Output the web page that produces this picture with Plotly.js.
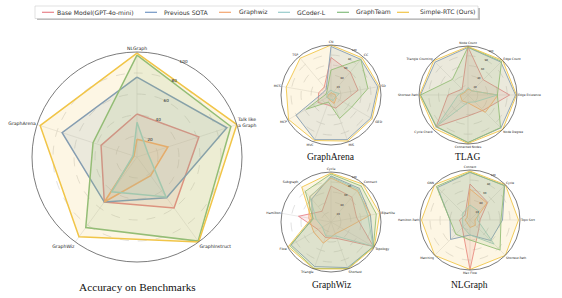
<!DOCTYPE html>
<html>
<head>
<meta charset="utf-8">
<script src="https://cdn.plot.ly/plotly-3.0.1.min.js"></script>
<style>html,body{margin:0;padding:0;background:#fff;}#chart{width:562px;height:298px;}</style>
</head>
<body>
<div id="chart"></div>
<script>
// ---------- data ----------
const seriesNames = ['Base Model(GPT-4o-mini)', 'Previous SOTA', 'Graphwiz', 'GCoder-L', 'GraphTeam', 'Simple-RTC (Ours)'];

// Main chart: accuracy on benchmarks
const mainCats = ['NLGraph', 'Talk like<br>a Graph', 'GraphInstruct', 'GraphWiz', 'GraphArena'];
const mainBase     = [41, 62, 60, 53, 36];
const mainSota     = [76, 90, 48, 53, 75];
const mainGraphwiz = [17, 31, 22, 53, 3];
const mainGcoder   = [33, 11, 47, 41, 4];
const mainTeam     = [97, 94, 99, 83, 44];
const mainOurs     = [99, 100, 100, 94, 97];

// GraphArena tasks
const arenaCats = ['CN', 'CC', 'SD', 'GED', 'MIS', 'MVC', 'MCP', 'MCS', 'TSP'];
const arenaBase     = [75, 60, 55, 28, 28, 21, 30, 25, 21];
const arenaSota     = [97, 93, 95, 92, 95, 95, 81, 18, 15];
const arenaGraphwiz = [5, 4, 8, 12, 18, 10, 8, 5, 3];
const arenaGcoder   = [10, 8, 17, 10, 12, 8, 10, 8, 8];
const arenaTeam     = [50, 93, 75, 48, 50, 15, 57, 10, 12];
const arenaOurs     = [100, 97, 98, 95, 98, 97, 98, 91, 96];

// TLAG tasks
const tlagCats = ['Node Count', 'Edge Count', 'Edge Existence', 'Node Degree', 'Connected Nodes', 'Cycle Check', 'Shortest Path', 'Triangle Counting'];
const tlagBase     = [98, 44, 85, 44, 43, 92, 41, 17];
const tlagSota     = [97, 95, 97, 95, 97, 92, 97, 95];
const tlagGraphwiz = [12, 12, 61, 50, 16, 17, 16, 8];
const tlagGcoder   = [15, 12, 60, 20, 15, 88, 20, 10];
const tlagTeam     = [98, 97, 60, 94, 97, 91, 97, 45];
const tlagOurs     = [99, 100, 99, 100, 99, 97, 99, 99];

// GraphWiz tasks
const wizCats = ['Cycle', 'Connect', 'Bipartite', 'Topology', 'Shortest', 'Triangle', 'Flow', 'Hamilton', 'Subgraph'];
const wizBase     = [72, 65, 52, 98, 35, 33, 30, 66, 28];
const wizSota     = [92, 88, 80, 98, 97, 95, 92, 38, 60];
const wizGraphwiz = [88, 82, 80, 30, 25, 45, 40, 45, 66];
const wizGcoder   = [90, 85, 75, 97, 30, 30, 20, 30, 66];
const wizTeam     = [96, 94, 92, 98, 99, 99, 95, 36, 80];
const wizOurs     = [98, 99, 99, 100, 100, 100, 99, 40, 91];

// NLGraph tasks
const nlgCats = ['Connect', 'Cycle', 'Topo Sort', 'Shortest Path', 'Max Flow', 'Matching', 'Hamilton Path', 'GNN'];
const nlgBase     = [72, 50, 20, 25, 99, 22, 21, 14];
const nlgSota     = [95, 98, 65, 58, 30, 55, 40, 92];
const nlgGraphwiz = [62, 48, 10, 15, 15, 8, 10, 8];
const nlgGcoder   = [30, 25, 15, 68, 30, 20, 15, 20];
const nlgTeam     = [96, 97, 62, 85, 40, 40, 40, 95];
const nlgOurs     = [98, 100, 97, 100, 99, 100, 97, 100];

const radialTicks = [20, 40, 60, 80, 100];

// ---------- styling ----------
const colors = ['#E8838B', '#7397C4', '#F3A56F', '#98CBCB', '#84BD7E', '#F1C548'];
function rgba(hex, a) {
  const n = parseInt(hex.slice(1), 16);
  return 'rgba(' + (n >> 16) + ',' + ((n >> 8) & 255) + ',' + (n & 255) + ',' + a + ')';
}
const W = 562, H = 298;
const px = x => x / W, py = y => 1 - y / H;

const panels = [
  {id: 'polar',  cats: mainCats,  data: [mainBase, mainSota, mainGraphwiz, mainGcoder, mainTeam, mainOurs], cx: 137, cy: 157, r: 105, lw: 1.5, tf: 4.6, rf: 4.2},
  {id: 'polar2', cats: arenaCats, data: [arenaBase, arenaSota, arenaGraphwiz, arenaGcoder, arenaTeam, arenaOurs], cx: 331, cy: 95, r: 50, lw: 0.9, tf: 3.2, rf: 2.6},
  {id: 'polar3', cats: tlagCats,  data: [tlagBase, tlagSota, tlagGraphwiz, tlagGcoder, tlagTeam, tlagOurs], cx: 468, cy: 95, r: 49, lw: 0.9, tf: 3.0, rf: 2.6},
  {id: 'polar4', cats: wizCats,   data: [wizBase, wizSota, wizGraphwiz, wizGcoder, wizTeam, wizOurs], cx: 331, cy: 222, r: 50, lw: 0.9, tf: 3.2, rf: 2.6},
  {id: 'polar5', cats: nlgCats,   data: [nlgBase, nlgSota, nlgGraphwiz, nlgGcoder, nlgTeam, nlgOurs], cx: 470, cy: 220, r: 50, lw: 0.9, tf: 3.0, rf: 2.6}
];

const traces = [];
const layout = {
  width: W, height: H,
  margin: {l: 0, r: 0, t: 0, b: 0},
  paper_bgcolor: '#fff',
  showlegend: false,
  font: {family: 'DejaVu Sans', color: '#222'},
  shapes: [], annotations: []
};

panels.forEach(p => {
  p.data.forEach((vals, i) => {
    traces.push({
      type: 'scatterpolar',
      subplot: p.id,
      r: vals.concat([vals[0]]),
      theta: p.cats.concat([p.cats[0]]),
      mode: 'lines',
      fill: 'toself',
      fillcolor: rgba(colors[i], 0.15),
      line: {color: colors[i], width: p.lw},
      name: seriesNames[i],
      hoverinfo: 'skip'
    });
  });
  layout[p.id] = {
    domain: {x: [px(p.cx - p.r), px(p.cx + p.r)], y: [py(p.cy + p.r), py(p.cy - p.r)]},
    bgcolor: 'rgba(0,0,0,0)',
    angularaxis: {
      rotation: 90, direction: 'clockwise', type: 'category',
      categoryarray: p.cats,
      showline: true, linecolor: '#444', linewidth: 0.7,
      showgrid: true, gridcolor: '#dcdcdc', gridwidth: 0.6,
      ticks: '', tickfont: {size: p.tf, color: '#222'}
    },
    radialaxis: {
      range: [0, 100], tickvals: radialTicks, angle: 67.5, tickangle: 67.5,
      showline: false, ticks: '',
      tickfont: {size: p.rf, color: '#222'},
      showgrid: true, gridcolor: '#cfcfcf', gridwidth: 0.6, griddash: 'dash'
    }
  };
});

// ---------- legend (drawn at top) ----------
const legLineX = [42, 145, 219, 278, 337, 397];
const legTextX = [55, 162, 237, 295, 354, 418];
layout.shapes.push({type: 'rect', xref: 'paper', yref: 'paper', x0: px(37), x1: px(480), y0: py(20), y1: py(8),
  fillcolor: '#bdbdbd', line: {width: 0}, layer: 'above'});
layout.shapes.push({type: 'rect', xref: 'paper', yref: 'paper', x0: px(35), x1: px(478), y0: py(18.5), y1: py(6),
  fillcolor: '#ffffff', line: {color: '#cccccc', width: 0.6}, layer: 'above'});
seriesNames.forEach((nm, i) => {
  layout.shapes.push({type: 'line', xref: 'paper', yref: 'paper', x0: px(legLineX[i]), x1: px(legLineX[i] + 12),
    y0: py(12.3), y1: py(12.3), line: {color: colors[i], width: 1.2}, layer: 'above'});
  layout.annotations.push({xref: 'paper', yref: 'paper', x: px(legTextX[i]), y: py(12.3), xanchor: 'left', yanchor: 'middle',
    text: nm, showarrow: false, font: {size: 6.1, family: 'DejaVu Sans', color: '#333'}});
});

// ---------- titles ----------
const titles = [
  {t: 'Accuracy on Benchmarks', x: 137, y: 287, s: 11.3},
  {t: 'GraphArena', x: 331, y: 157, s: 9.5},
  {t: 'TLAG', x: 467, y: 157, s: 9.5},
  {t: 'GraphWiz', x: 331, y: 285, s: 9.5},
  {t: 'NLGraph', x: 469, y: 285, s: 9.5}
];
titles.forEach(o => layout.annotations.push({xref: 'paper', yref: 'paper', x: px(o.x), y: py(o.y), xanchor: 'center', yanchor: 'middle',
  text: o.t, showarrow: false, font: {size: o.s, family: 'Liberation Serif', color: '#111'}}));

Plotly.newPlot('chart', traces, layout, {staticPlot: true, displayModeBar: false});
</script>
</body>
</html>
